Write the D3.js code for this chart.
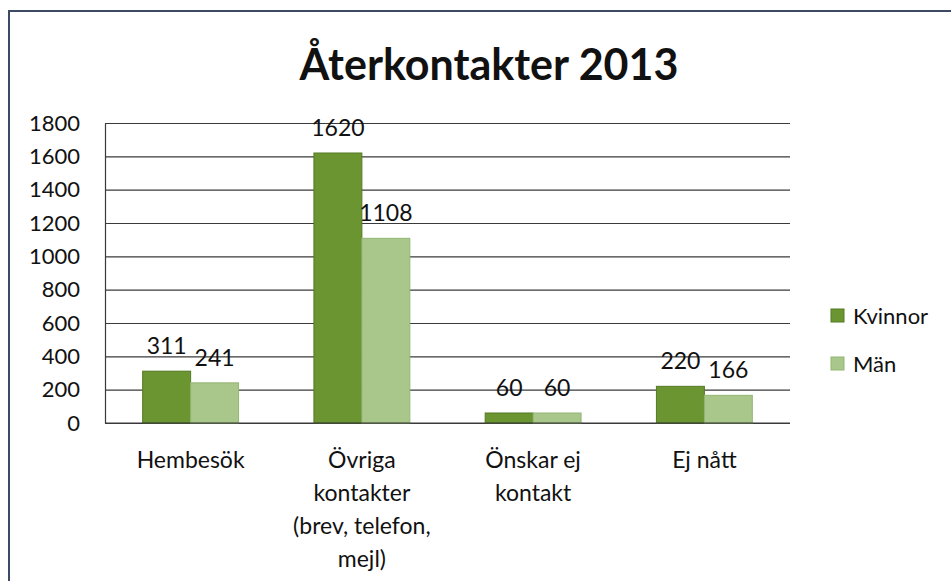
<!DOCTYPE html>
<html>
<head>
<meta charset="utf-8">
<script src="https://cdn.jsdelivr.net/npm/d3@7"></script>
<style>
  body { margin: 0; background: #fff; }
  svg { display: block; font-family: Lato, "Open Sans", sans-serif; }
</style>
</head>
<body>
<svg id="chart" width="951" height="581"></svg>
<script>
var CATEGORIES = [["Hembesök"], ["Övriga", "kontakter", "(brev, telefon,", "mejl)"], ["Önskar ej", "kontakt"], ["Ej nått"]];
var SERIES = ["Kvinnor", "Män"];
var KVINNOR = [311, 1620, 60, 220];
var MAN = [241, 1108, 60, 166];
var Y_TICKS = [0, 200, 400, 600, 800, 1000, 1200, 1400, 1600, 1800];
var COLORS = ["#6b9530", "#a9c78b"];
var STROKES = ["#557a22", "#93b574"];

var svg = d3.select("#chart");

/* outer frame (only top and left edges visible) */
svg.append("path")
    .attr("d", "M9,581 V11 H951")
    .attr("fill", "none")
    .attr("stroke", "#3d4a63")
    .attr("stroke-width", 2);

svg.append("text")
    .attr("x", 489).attr("y", 80)
    .attr("text-anchor", "middle")
    .attr("font-size", 43).attr("font-weight", "bold")
    .attr("fill", "#111")
    .text("Återkontakter 2013");

var margin = {left: 105, top: 123, right: 161, bottom: 158};
var width = 951 - margin.left - margin.right;
var height = 581 - margin.top - margin.bottom;
var g = svg.append("g").attr("transform", "translate(" + margin.left + "," + margin.top + ")");

var x = d3.scaleBand().domain(d3.range(CATEGORIES.length)).range([0, width]).paddingInner(0.44).paddingOuter(0.22);
var x1 = d3.scaleBand().domain(SERIES).range([0, x.bandwidth()]);
var y = d3.scaleLinear().domain([0, 1800]).range([height, 0]);

/* gridlines */
g.append("g")
    .call(d3.axisLeft(y).tickValues(Y_TICKS).tickSize(-width).tickFormat(""))
    .call(function (a) {
        a.select(".domain").remove();
        a.selectAll("line").attr("stroke", "#3a3a3a").attr("stroke-width", 1.2);
    });

/* y axis labels */
g.append("g")
    .call(d3.axisLeft(y).tickValues(Y_TICKS).tickSize(0).tickPadding(25).tickFormat(d3.format("d")))
    .call(function (a) {
        a.select(".domain").attr("stroke", "#3a3a3a").attr("stroke-width", 1.2);
        a.selectAll("text").attr("font-size", 22).attr("fill", "#111").attr("font-family", "Lato");
    });

var data = CATEGORIES.map(function (c, i) {
    return [{s: 0, v: KVINNOR[i]}, {s: 1, v: MAN[i]}];
});

var groups = g.selectAll(".cat").data(data).enter().append("g")
    .attr("transform", function (d, i) { return "translate(" + x(i) + ",0)"; });

groups.selectAll("rect").data(function (d) { return d; }).enter().append("rect")
    .attr("x", function (d) { return x1(SERIES[d.s]); })
    .attr("y", function (d) { return y(d.v); })
    .attr("width", x1.bandwidth())
    .attr("height", function (d) { return height - y(d.v); })
    .attr("fill", function (d) { return COLORS[d.s]; })
    .attr("stroke", function (d) { return STROKES[d.s]; })
    .attr("stroke-width", 1);

groups.selectAll(".lbl").data(function (d) { return d; }).enter().append("text")
    .attr("x", function (d) { return x1(SERIES[d.s]) + x1.bandwidth() / 2; })
    .attr("y", function (d) { return y(d.v) - 17; })
    .attr("text-anchor", "middle")
    .attr("font-size", 23)
    .attr("fill", "#111")
    .text(function (d) { return d.v; });

/* baseline */
g.append("line").attr("x1", 0).attr("x2", width).attr("y1", height).attr("y2", height)
    .attr("stroke", "#3a3a3a").attr("stroke-width", 1.2);

/* category labels */
CATEGORIES.forEach(function (lines, i) {
    var t = g.append("text")
        .attr("x", x(i) + x.bandwidth() / 2)
        .attr("y", height + 45)
        .attr("text-anchor", "middle")
        .attr("font-size", 23)
        .attr("fill", "#111");
    lines.forEach(function (l, j) {
        t.append("tspan").attr("x", x(i) + x.bandwidth() / 2).attr("y", height + 45 + j * 33).text(l);
    });
});

/* legend */
var legend = svg.append("g").attr("transform", "translate(831,309)");
SERIES.forEach(function (s, i) {
    var row = legend.append("g").attr("transform", "translate(0," + i * 48 + ")");
    row.append("rect").attr("width", 13).attr("height", 13)
        .attr("fill", COLORS[i]).attr("stroke", STROKES[i]);
    row.append("text").attr("x", 22).attr("y", 15)
        .attr("font-size", 22).attr("fill", "#111").text(s);
});
</script>
</body>
</html>
